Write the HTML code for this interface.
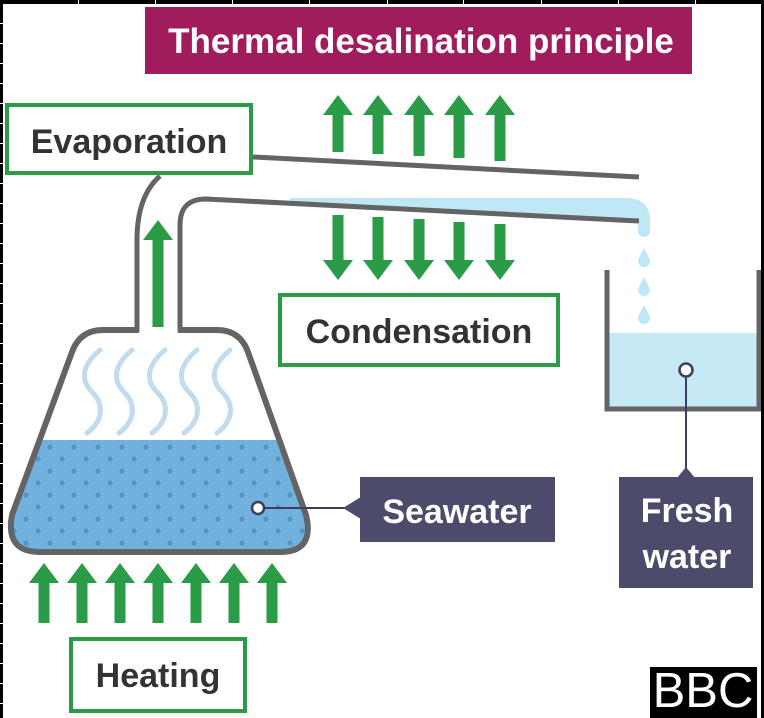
<!DOCTYPE html>
<html><head><meta charset="utf-8"><style>
html,body{margin:0;padding:0;background:#fff;}
svg{display:block;}
text{font-family:"Liberation Sans",Arial,sans-serif;font-weight:bold;}
</style></head><body>
<svg width="764" height="718" viewBox="0 0 764 718" xmlns="http://www.w3.org/2000/svg">
<defs>
<clipPath id="flask"><path d="M103,330 Q80,330 72,352 L12,515 Q5,552 40,552 L280,552 Q315,552 306,515 L248,352 Q240,330 217,330 Z"/></clipPath>
<pattern id="dots" x="38" y="441" width="24" height="24" patternUnits="userSpaceOnUse">
<rect width="24" height="24" fill="#70b1dd"/>
<circle cx="12" cy="6" r="2.6" fill="#5893c2"/>
<circle cx="0" cy="18" r="2.6" fill="#5893c2"/>
<circle cx="24" cy="18" r="2.6" fill="#5893c2"/>
</pattern>
</defs>
<rect width="764" height="718" fill="#fff"/>

<!-- title -->
<rect x="145" y="7" width="547" height="67" fill="#a11c5d"/>
<text x="421" y="53" font-size="35" fill="#fff" text-anchor="middle">Thermal desalination principle</text>

<!-- light blue band & nozzle -->
<path d="M290,198 L625,198 Q650,198 650,220 L650,231 A6,6 0 0 1 638,231 L638,221 L290,203 Z" fill="#bfe7f4"/>
<!-- drops -->
<g fill="#bfe7f4">
<path d="M644,248 C646,253 650,258 650,261 A6,6 0 0 1 638,261 C638,258 642,253 644,248 Z"/>
<path d="M644,277 C646,282 650,287 650,290 A6,6 0 0 1 638,290 C638,287 642,282 644,277 Z"/>
<path d="M644,305 C646,310 650,315 650,318 A6,6 0 0 1 638,318 C638,315 642,310 644,305 Z"/>
</g>

<!-- pipes -->
<g fill="none" stroke="#646464" stroke-width="5" stroke-linecap="butt">
<path d="M253,157 L639,177"/>
<path d="M180,332 L180,225 Q180,199 206,199 L639,221"/>
<path d="M137,332 L137,240 Q137,196 160,176"/>
</g>

<!-- water in flask -->
<g clip-path="url(#flask)">
<rect x="0" y="440" width="330" height="120" fill="url(#dots)"/>
</g>

<!-- steam -->
<g fill="none" stroke="#c3dced" stroke-width="5" stroke-linecap="round">
<path d="M100,350 C82,365 80,380 92,392 C104,404 104,420 87,433"/>
<path d="M132,350 C114,365 112,380 124,392 C136,404 136,420 119,433"/>
<path d="M165,350 C147,365 145,380 157,392 C169,404 169,420 152,433"/>
<path d="M197,350 C179,365 177,380 189,392 C201,404 201,420 184,433"/>
<path d="M230,350 C212,365 210,380 222,392 C234,404 234,420 217,433"/>
</g>

<!-- flask outline -->
<path d="M139,330 L103,330 Q80,330 72,352 L12,515 Q5,552 40,552 L280,552 Q315,552 306,515 L248,352 Q240,330 217,330 L178,330" fill="none" stroke="#646464" stroke-width="6" stroke-linejoin="round"/>

<!-- arrows -->
<g fill="#2a9b47">
<!-- neck -->
<polygon points="158,220 173,240 163.5,240 163.5,327 152.5,327 152.5,240 143,240"/>
<!-- heating -->
<polygon points="44,563 59,583 49.5,583 49.5,623 38.5,623 38.5,583 29,583"/>
<polygon points="82,563 97,583 87.5,583 87.5,623 76.5,623 76.5,583 67,583"/>
<polygon points="120,563 135,583 125.5,583 125.5,623 114.5,623 114.5,583 105,583"/>
<polygon points="158,563 173,583 163.5,583 163.5,623 152.5,623 152.5,583 143,583"/>
<polygon points="196,563 211,583 201.5,583 201.5,623 190.5,623 190.5,583 181,583"/>
<polygon points="234,563 249,583 239.5,583 239.5,623 228.5,623 228.5,583 219,583"/>
<polygon points="272,563 287,583 277.5,583 277.5,623 266.5,623 266.5,583 257,583"/>
<!-- up (evaporating top) -->
<polygon points="338,95 353,115 343.5,115 343.5,152 332.5,152 332.5,115 323,115"/>
<polygon points="378,95 393,115 383.5,115 383.5,154 372.5,154 372.5,115 363,115"/>
<polygon points="419,95 434,115 424.5,115 424.5,156 413.5,156 413.5,115 404,115"/>
<polygon points="459,95 474,115 464.5,115 464.5,158 453.5,158 453.5,115 444,115"/>
<polygon points="500,95 515,115 505.5,115 505.5,161 494.5,161 494.5,115 485,115"/>
<!-- down -->
<polygon points="338,280 353,260 343.5,260 343.5,215 332.5,215 332.5,260 323,260"/>
<polygon points="378,280 393,260 383.5,260 383.5,217 372.5,217 372.5,260 363,260"/>
<polygon points="419,280 434,260 424.5,260 424.5,219 413.5,219 413.5,260 404,260"/>
<polygon points="459,280 474,260 464.5,260 464.5,222 453.5,222 453.5,260 444,260"/>
<polygon points="500,280 515,260 505.5,260 505.5,224 494.5,224 494.5,260 485,260"/>
</g>

<!-- green label boxes -->
<g fill="#fff" stroke="#2a9b47" stroke-width="4">
<rect x="7" y="105" width="244" height="68"/>
<rect x="280" y="295" width="278" height="70"/>
<rect x="71" y="639" width="174" height="72"/>
</g>
<g fill="#333" font-size="34" text-anchor="middle">
<text x="129" y="153">Evaporation</text>
<text x="419" y="343">Condensation</text>
<text x="158" y="687">Heating</text>
</g>

<!-- seawater callout -->
<line x1="258" y1="508" x2="345" y2="508" stroke="#3f3d5e" stroke-width="2"/>
<circle cx="258" cy="508" r="6" fill="#fff" stroke="#3f3d5e" stroke-width="2.5"/>
<polygon points="361,497 343,508 361,519" fill="#4d4b6c"/>
<rect x="360" y="477" width="195" height="65" fill="#4d4b6c"/>
<text x="457" y="523" font-size="34" fill="#fff" text-anchor="middle">Seawater</text>

<!-- fresh water container -->
<rect x="609" y="333" width="149" height="75" fill="#c5e9f5"/>
<path d="M607,270 L607,409 L759,409 L759,270" fill="none" stroke="#646464" stroke-width="5"/>
<line x1="686" y1="370" x2="686" y2="472" stroke="#3f3d5e" stroke-width="2"/>
<circle cx="686" cy="370" r="6.5" fill="#fff" stroke="#3f3d5e" stroke-width="2.5"/>
<polygon points="677,478 686,467 695,478" fill="#4d4b6c"/>
<rect x="619" y="477" width="134" height="111" fill="#4d4b6c"/>
<text x="687" y="522" font-size="34" fill="#fff" text-anchor="middle">Fresh</text>
<text x="687" y="568" font-size="34" fill="#fff" text-anchor="middle">water</text>

<!-- BBC logo -->
<rect x="650" y="667" width="107" height="51" fill="#000"/>
<text x="703" y="707" font-size="49" fill="#fff" text-anchor="middle" style="font-weight:normal">BBC</text>

<!-- black edges with ticks -->
<rect x="0" y="0" width="764" height="4" fill="#000"/>
<g fill="#fff">
<rect x="78" y="0" width="1" height="4"/><rect x="155" y="0" width="1" height="4"/>
<rect x="232" y="0" width="1" height="4"/><rect x="309" y="0" width="1" height="4"/>
<rect x="387" y="0" width="1" height="4"/><rect x="463" y="0" width="1" height="4"/>
<rect x="541" y="0" width="1" height="4"/><rect x="618" y="0" width="1" height="4"/>
<rect x="695" y="0" width="1" height="4"/>
</g>
<rect x="0" y="0" width="3" height="718" fill="#000"/>
<g fill="#fff">
<rect x="0" y="23" width="3" height="1"/><rect x="0" y="43" width="3" height="1"/>
<rect x="0" y="63" width="3" height="1"/><rect x="0" y="83" width="3" height="1"/>
<rect x="0" y="103" width="3" height="1"/><rect x="0" y="123" width="3" height="1"/>
<rect x="0" y="143" width="3" height="1"/><rect x="0" y="163" width="3" height="1"/>
<rect x="0" y="183" width="3" height="1"/><rect x="0" y="203" width="3" height="1"/>
<rect x="0" y="223" width="3" height="1"/><rect x="0" y="243" width="3" height="1"/>
<rect x="0" y="263" width="3" height="1"/><rect x="0" y="283" width="3" height="1"/>
<rect x="0" y="303" width="3" height="1"/><rect x="0" y="323" width="3" height="1"/>
<rect x="0" y="343" width="3" height="1"/><rect x="0" y="363" width="3" height="1"/>
<rect x="0" y="383" width="3" height="1"/><rect x="0" y="403" width="3" height="1"/>
<rect x="0" y="423" width="3" height="1"/><rect x="0" y="443" width="3" height="1"/>
<rect x="0" y="463" width="3" height="1"/><rect x="0" y="483" width="3" height="1"/>
<rect x="0" y="503" width="3" height="1"/><rect x="0" y="523" width="3" height="1"/>
<rect x="0" y="543" width="3" height="1"/><rect x="0" y="563" width="3" height="1"/>
<rect x="0" y="583" width="3" height="1"/><rect x="0" y="603" width="3" height="1"/>
<rect x="0" y="623" width="3" height="1"/><rect x="0" y="643" width="3" height="1"/>
<rect x="0" y="663" width="3" height="1"/><rect x="0" y="683" width="3" height="1"/>
<rect x="0" y="703" width="3" height="1"/>
</g>
<rect x="761" y="0" width="3" height="718" fill="#000"/>
</svg>
</body></html>
